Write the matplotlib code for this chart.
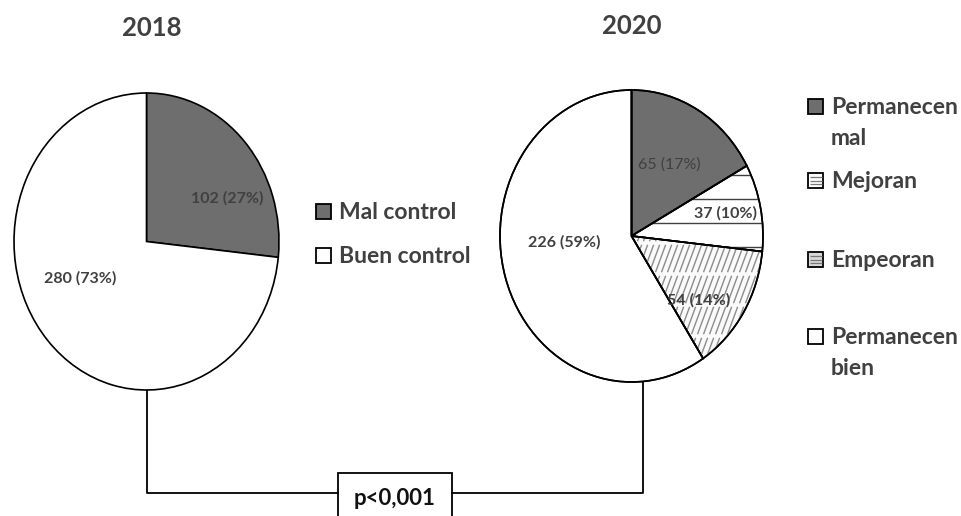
import matplotlib
matplotlib.use("Agg")
import numpy as np
import matplotlib.pyplot as plt
from matplotlib.patches import Rectangle, Wedge
from matplotlib.collections import LineCollection

# ---- data ----
years = ["2018", "2020"]
control_labels = ["Mal control", "Buen control"]
control_counts = [102, 280]
change_labels = ["Permanecen\nmal", "Mejoran", "Empeoran", "Permanecen\nbien"]
change_counts = [65, 37, 54, 226]
p_text = "p<0,001"

W, H = 961, 516
FONT = "Lato"
TXT = "#404040"
DARK = "#6e6e6e"

plt.rcParams["font.family"] = [FONT, "DejaVu Sans"]

fig = plt.figure(figsize=(W / 100, H / 100), dpi=100)

# overlay in pixel coordinates for titles, legends and the bracket
ov = fig.add_axes([0, 0, 1, 1])
ov.set_xlim(0, W)
ov.set_ylim(H, 0)
ov.axis("off")


def px_axes(x0, y0, x1, y1):
    return fig.add_axes([x0 / W, 1 - y1 / H, (x1 - x0) / W, (y1 - y0) / H])


def label(v, total):
    return f"{v} ({round(100 * v / total)}%)"


def draw_pie(ax, counts, colors):
    wedges, _ = ax.pie(counts, colors=colors, startangle=90, counterclock=False,
                       wedgeprops=dict(edgecolor="black", linewidth=1.2))
    ax.set_aspect("auto")
    ax.set_xlim(-1, 1)
    ax.set_ylim(-1, 1)
    for w in wedges:
        w.set_clip_on(False)
    return wedges


def pattern(ax, wedge, segs, color, lw=0.9):
    lc = LineCollection(segs, colors=color, linewidths=lw,
                        zorder=wedge.get_zorder() + 0.1)
    ax.add_collection(lc)
    lc.set_clip_path(wedge)
    return lc


# ---- 2018 pie ----
axL = px_axes(14, 93, 279, 390)
wl = draw_pie(axL, control_counts, [DARK, "white"])
tot = sum(control_counts)
axL.text(0.61, 0.293, label(control_counts[0], tot), ha="center", va="center",
         fontsize=11.5, fontweight="bold", color=TXT)
axL.text(-0.50, -0.246, label(control_counts[1], tot), ha="center", va="center",
         fontsize=11.5, fontweight="bold", color=TXT)

# ---- 2020 pie ----
RX, RY = 131.5, 146.0          # pixels per unit radius in this axes
axR = px_axes(500, 90, 763, 382)
wr = draw_pie(axR, change_counts, [DARK, "white", "#fafafa", "white"])

# horizontal rule fill for "Mejoran"
hy = np.arange(0.42, -0.2, -0.165)
pattern(axR, wr[1], [[(-1.1, y), (1.1, y)] for y in hy], "#404040", 1.0)

# steep broken diagonal fill for "Empeoran" (built in pixel units)
segs = []
band, gap, slope, step = 31.0, 3.5, 0.37, 6.0
for top in np.arange(24.0, -160.0, -band):
    yt, yb = top - gap / 2, top - band + gap / 2
    for x in np.arange(-60.0, 160.0, step):
        segs.append([(x / RX, yb / RY), ((x + slope * (yt - yb)) / RX, yt / RY)])
pattern(axR, wr[2], segs, "#8c8c8c", 1.0)

for w in wr:
    o = Wedge(w.center, w.r, w.theta1, w.theta2, facecolor="none",
              edgecolor="black", linewidth=1.2, zorder=w.get_zorder() + 0.2)
    axR.add_patch(o)
    o.set_clip_on(False)

tot = sum(change_counts)
pos = [(0.285, 0.486), (0.715, 0.158), (0.513, -0.438), (-0.513, -0.041)]
weights = ["normal", "bold", "bold", "bold"]
for v, (x, y), fw in zip(change_counts, pos, weights):
    axR.text(x, y, label(v, tot), ha="center", va="center", fontsize=11.5,
             fontweight=fw, color=TXT, zorder=10)

# ---- titles ----
ov.text(152, 36.5, years[0], ha="center", va="baseline", fontsize=18.5,
        fontweight="bold", color=TXT)
ov.text(632, 34, years[1], ha="center", va="baseline", fontsize=18.5,
        fontweight="bold", color=TXT)


# ---- legends ----
def legend_box(x, yc, fc, lines=False):
    s = 15
    ov.add_patch(Rectangle((x, yc - s / 2), s, s, facecolor=fc,
                           edgecolor="black", linewidth=1.3, zorder=3))
    if lines:
        ys = yc + np.array([-3.5, 0.0, 3.5])
        ov.hlines(ys, x + 1.5, x + s - 1.5, colors="#777777", lw=0.9, zorder=3.1)


for lab, base, fc in zip(control_labels, [219, 263], [DARK, "white"]):
    legend_box(316, base - 7.5, fc)
    ov.text(339, base, lab, ha="left", va="baseline", fontsize=16.5,
            fontweight="bold", color=TXT)

leg_base = [114, 188, 267, 344]
leg_fc = [DARK, "white", "#d9d9d9", "white"]
leg_lines = [False, True, True, False]
pitch = 31
for lab, base, fc, ln in zip(change_labels, leg_base, leg_fc, leg_lines):
    legend_box(808, base - 7.5, fc, ln)
    for i, part in enumerate(lab.split("\n")):
        ov.text(831, base + i * pitch, part, ha="left", va="baseline",
                fontsize=16.5, fontweight="bold", color=TXT)

# ---- significance bracket ----
lx, rx, by = 147, 643, 493
bx0, bx1, btop = 338, 452, 473
ov.plot([lx, lx, bx0], [390, by, by], color="black", lw=1.3)
ov.plot([bx1, rx, rx], [by, by, 382], color="black", lw=1.3)
ov.add_patch(Rectangle((bx0, btop), bx1 - bx0, 60, facecolor="white",
                       edgecolor="black", linewidth=1.3, clip_on=False))
ov.text((bx0 + bx1) / 2, 505, p_text, ha="center", va="baseline", fontsize=16,
        fontweight="bold", color="#111111")

fig.savefig("out.png", dpi=100)
